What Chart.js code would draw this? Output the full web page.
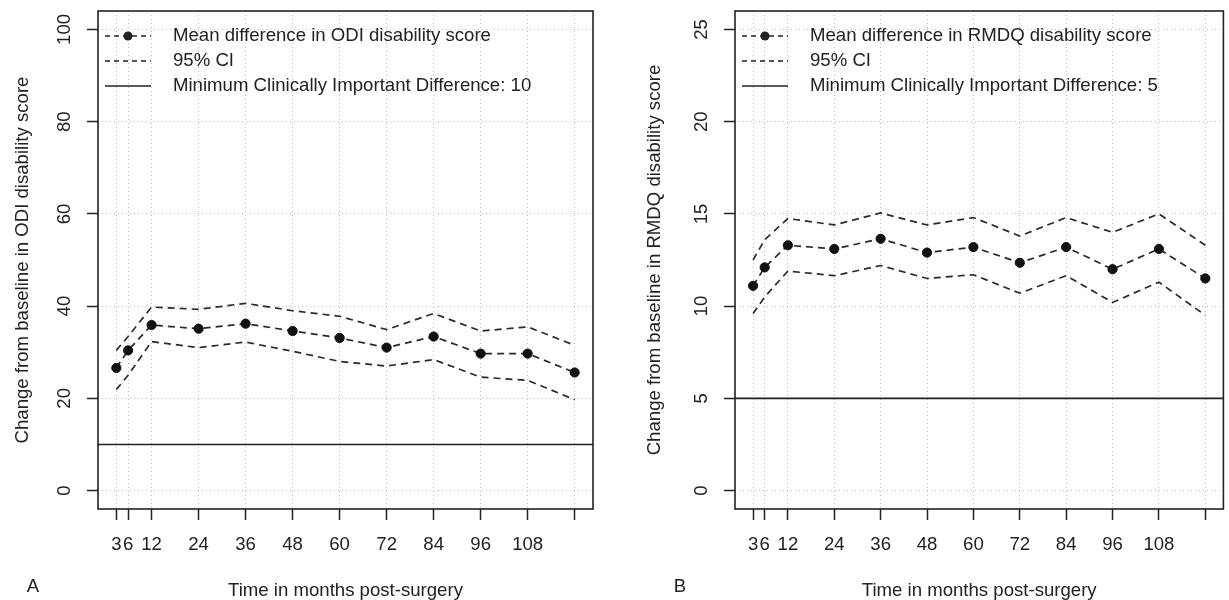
<!DOCTYPE html>
<html>
<head>
<meta charset="utf-8">
<script src="https://cdn.jsdelivr.net/npm/chart.js@4.4.0/dist/chart.umd.min.js"></script>
<style>
  body { margin: 0; background: #fff; }
  canvas { position: absolute; top: 0; }
  #chartA { left: 0; }
  #chartB { left: 614px; }
</style>
</head>
<body>
<canvas id="chartA" width="614" height="600"></canvas>
<canvas id="chartB" width="615" height="600"></canvas>
<script>
// months post-surgery and their tick labels (120 has a tick but no label)
const months = [3, 6, 12, 24, 36, 48, 60, 72, 84, 96, 108, 120];
const monthLabels = ["3", "6", "12", "24", "36", "48", "60", "72", "84", "96", "108", ""];

// panel A: ODI
const odiMean = [26.6, 30.4, 35.9, 35.1, 36.2, 34.6, 33.1, 31.0, 33.4, 29.7, 29.7, 25.6];
const odiUpper = [30.4, 33.4, 39.8, 39.3, 40.6, 39.0, 37.8, 34.9, 38.4, 34.6, 35.5, 31.5];
const odiLower = [21.9, 25.0, 32.3, 31.0, 32.2, 30.2, 28.0, 27.0, 28.4, 24.6, 23.9, 19.7];
const odiTicks = [0, 20, 40, 60, 80, 100];
const odiMcid = 10;

// panel B: RMDQ
const rmdqMean = [11.1, 12.1, 13.3, 13.1, 13.65, 12.9, 13.2, 12.35, 13.2, 12.0, 13.1, 11.5];
const rmdqUpper = [12.5, 13.6, 14.75, 14.4, 15.05, 14.4, 14.8, 13.8, 14.8, 14.0, 15.0, 13.3];
const rmdqLower = [9.6, 10.5, 11.9, 11.65, 12.2, 11.5, 11.7, 10.7, 11.65, 10.2, 11.3, 9.5];
const rmdqTicks = [0, 5, 10, 15, 20, 25];
const rmdqMcid = 5;

const FONT = "'Liberation Sans', Arial, sans-serif";
const FSIZE = 18.6;
const INK = "#222";
const GRID = "#bdbdbd";

const toPoints = (vals) => months.map((m, i) => ({ x: m, y: vals[i] }));

// draws box, MCID line, rotated y tick labels, legend and panel letter
const rStyle = {
  id: "rStyle",
  afterDatasetsDraw(chart, args, opts) {
    const { ctx, chartArea: a, scales } = chart;
    const y = scales.y;
    ctx.save();
    // MCID line
    const my = y.getPixelForValue(opts.mcid);
    ctx.strokeStyle = INK;
    ctx.lineWidth = 1.6;
    ctx.setLineDash([]);
    ctx.beginPath();
    ctx.moveTo(a.left, my);
    ctx.lineTo(a.right, my);
    ctx.stroke();
    // box
    ctx.strokeRect(a.left, a.top, a.right - a.left, a.bottom - a.top);

    // y tick labels, rotated like R
    ctx.fillStyle = INK;
    ctx.font = FSIZE + "px " + FONT;
    ctx.textAlign = "center";
    ctx.textBaseline = "middle";
    opts.yTicks.forEach((v) => {
      ctx.save();
      ctx.translate(a.left - 33, y.getPixelForValue(v));
      ctx.rotate(-Math.PI / 2);
      ctx.fillText(String(v), 0, 0);
      ctx.restore();
    });

    // legend
    const lx0 = a.left + 7, lx1 = a.left + 53, tx = a.left + 75;
    const rows = [a.top + 25, a.top + 50, a.top + 75];
    ctx.textAlign = "left";
    ctx.strokeStyle = INK;
    ctx.lineWidth = 1.5;
    opts.legend.forEach((txt, i) => {
      const ry = rows[i];
      ctx.setLineDash(i < 2 ? [5, 4] : []);
      ctx.beginPath();
      ctx.moveTo(lx0, ry);
      ctx.lineTo(lx1, ry);
      ctx.stroke();
      if (i === 0) {
        ctx.beginPath();
        ctx.arc(a.left + 30, ry, 4.5, 0, Math.PI * 2);
        ctx.fill();
      }
      ctx.fillText(txt, tx, ry);
    });

    // panel letter
    ctx.textAlign = "center";
    ctx.fillText(opts.letter, opts.letterX, 587);
    ctx.restore();
  }
};

const buildChart = (id, cfg) => {
  const lineDs = (vals, withPoints) => ({
    data: toPoints(vals),
    borderColor: "#2a2a2a",
    borderWidth: 1.7,
    borderDash: [7, 5],
    pointRadius: withPoints ? 4.6 : 0,
    pointBackgroundColor: "#111",
    pointBorderColor: "#111",
    pointBorderWidth: 1,
    tension: 0,
    fill: false
  });

  return new Chart(document.getElementById(id), {
    type: "line",
    data: {
      datasets: [lineDs(cfg.upper, false), lineDs(cfg.lower, false), lineDs(cfg.mean, true)]
    },
    options: {
      responsive: false,
      animation: false,
      devicePixelRatio: 1,
      layout: { padding: { left: 0, top: 11, right: cfg.padRight, bottom: 0 } },
      plugins: {
        legend: { display: false },
        tooltip: { enabled: false },
        rStyle: {
          mcid: cfg.mcid,
          yTicks: cfg.yTicks,
          legend: cfg.legend,
          letter: cfg.letter,
          letterX: cfg.letterX
        }
      },
      scales: {
        x: {
          type: "linear",
          min: -1.68,
          max: 124.68,
          afterBuildTicks: (s) => { s.ticks = months.map((v) => ({ value: v })); },
          afterFit: (s) => { s.height = 91; },
          grid: {
            color: GRID,
            lineWidth: 1,
            tickLength: 11,
            tickColor: INK,
            tickWidth: 1.5
          },
          border: { display: false, dash: [1, 3] },
          ticks: {
            autoSkip: false,
            maxRotation: 0,
            minRotation: 0,
            padding: 14,
            color: INK,
            font: { family: FONT, size: FSIZE },
            callback: (v, i) => monthLabels[i]
          },
          title: {
            display: true,
            text: "Time in months post-surgery",
            color: INK,
            font: { family: FONT, size: FSIZE, lineHeight: 1 },
            padding: 0
          }
        },
        y: {
          min: cfg.yMin,
          max: cfg.yMax,
          afterBuildTicks: (s) => { s.ticks = cfg.yTicks.map((v) => ({ value: v })); },
          afterFit: (s) => { s.width = cfg.yWidth; },
          grid: {
            color: GRID,
            lineWidth: 1,
            tickLength: 11,
            tickColor: INK,
            tickWidth: 1.5
          },
          border: { display: false, dash: [1, 3] },
          ticks: { display: false },
          title: {
            display: true,
            text: cfg.yTitle,
            color: INK,
            font: { family: FONT, size: FSIZE, lineHeight: 1 },
            padding: { top: cfg.yTitlePad, bottom: 0 }
          }
        }
      }
    },
    plugins: [rStyle]
  });
};

buildChart("chartA", {
  mean: odiMean, upper: odiUpper, lower: odiLower,
  yMin: -4, yMax: 104, yTicks: odiTicks, mcid: odiMcid,
  yWidth: 98, padRight: 21, yTitlePad: 14,
  yTitle: "Change from baseline in ODI disability score",
  legend: ["Mean difference in ODI disability score", "95% CI", "Minimum Clinically Important Difference: 10"],
  letter: "A", letterX: 33
});

buildChart("chartB", {
  mean: rmdqMean, upper: rmdqUpper, lower: rmdqLower,
  yMin: -1, yMax: 26, yTicks: rmdqTicks, mcid: rmdqMcid,
  yWidth: 121, padRight: 1, yTitlePad: 32,
  yTitle: "Change from baseline in RMDQ disability score",
  legend: ["Mean difference in RMDQ disability score", "95% CI", "Minimum Clinically Important Difference: 5"],
  letter: "B", letterX: 66
});
</script>
</body>
</html>
